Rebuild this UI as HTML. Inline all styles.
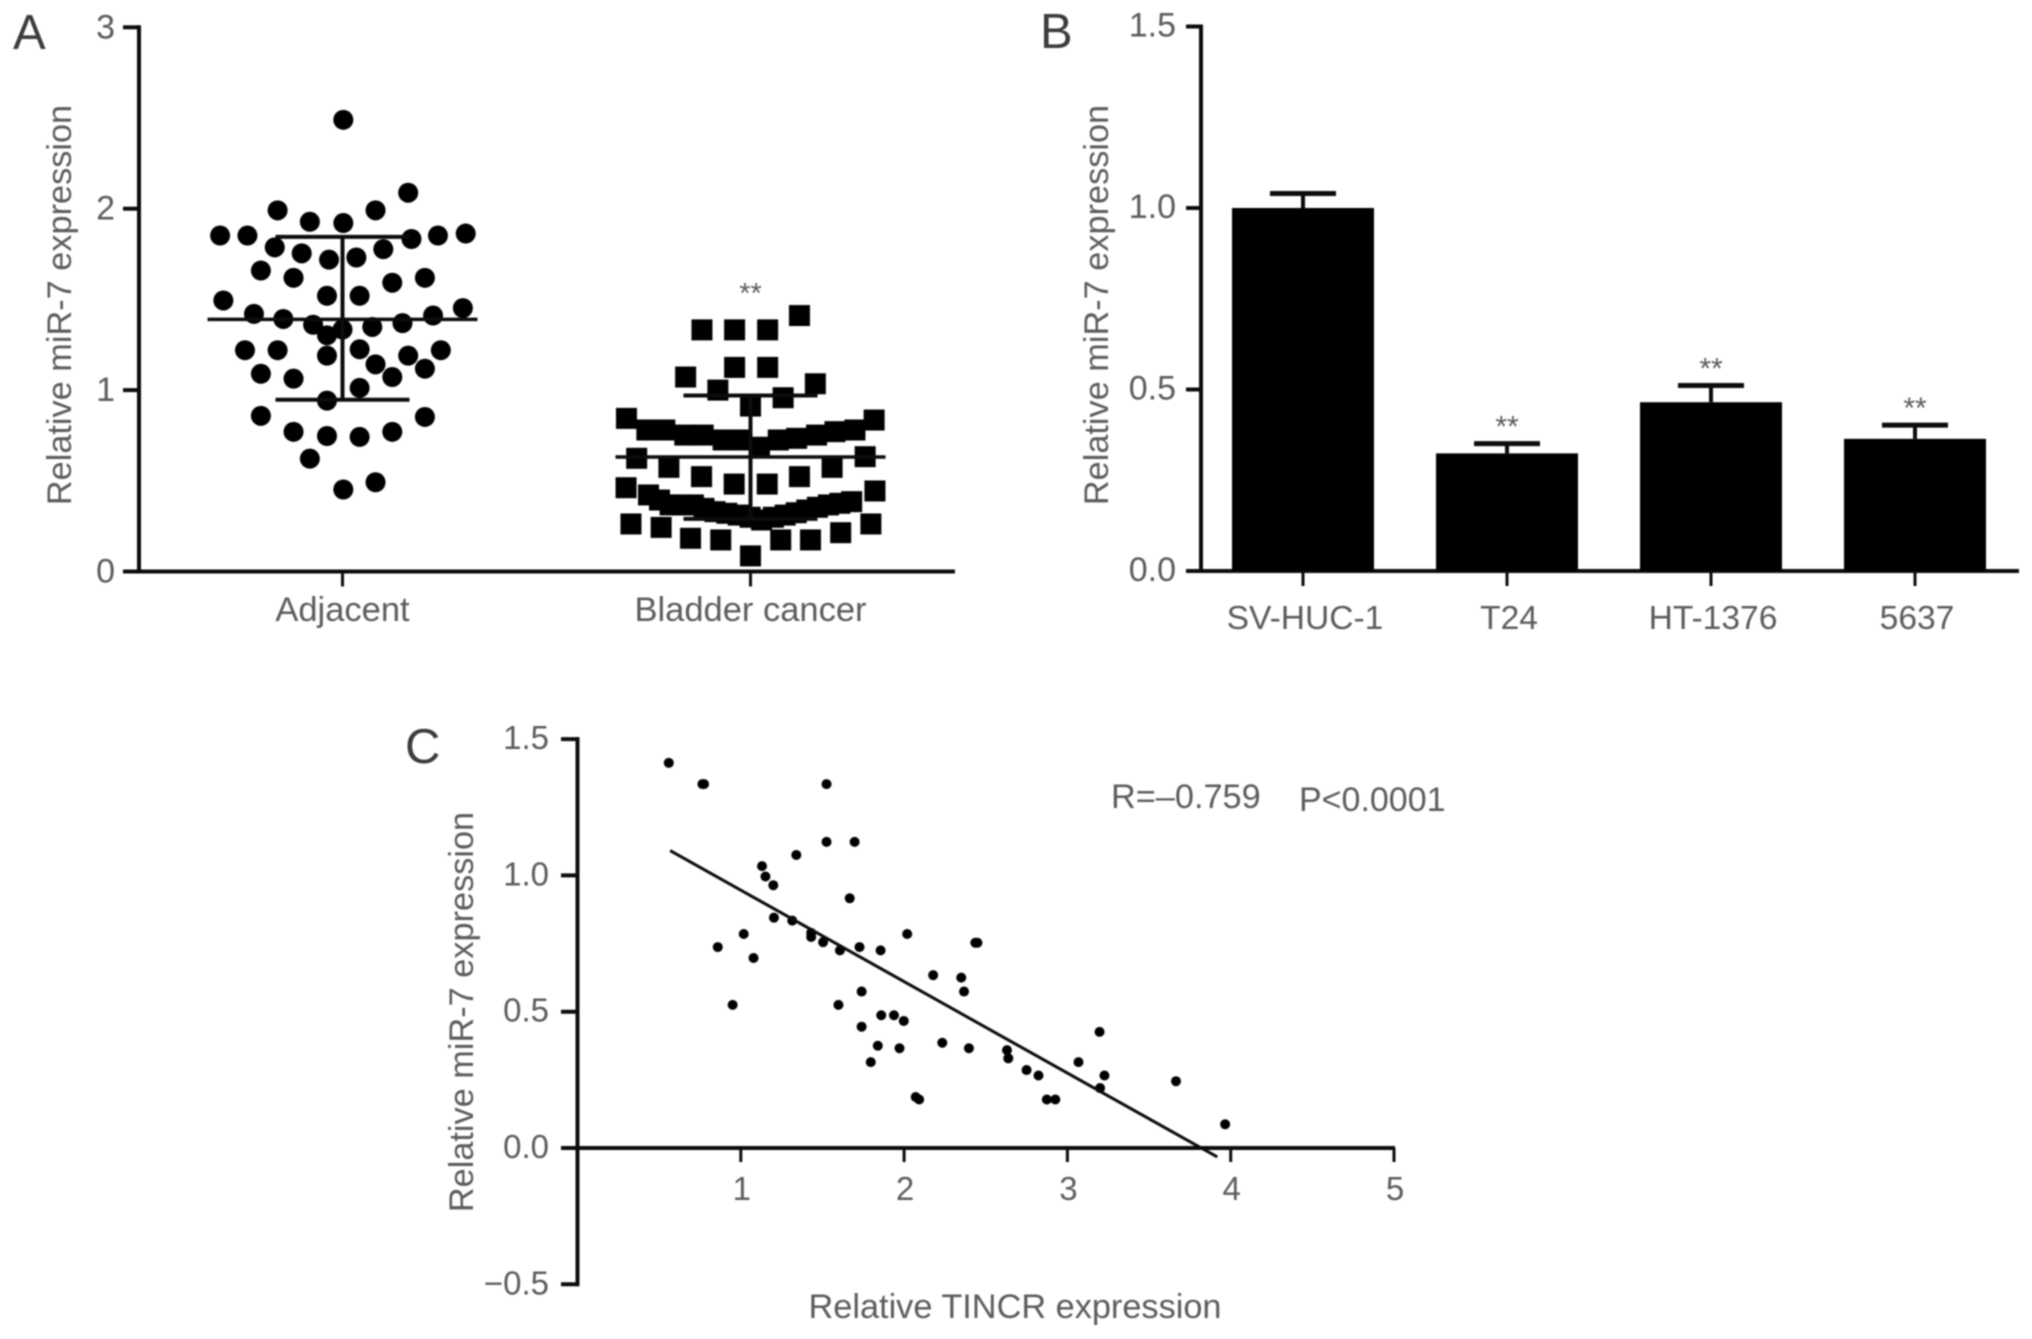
<!DOCTYPE html>
<html lang="en">
<head>
<meta charset="utf-8">
<title>miR-7 expression figure</title>
<style>
html,body{margin:0;padding:0;background:#fff;}
svg{display:block;filter:blur(0.7px);}
text{font-family:"Liberation Sans",sans-serif;fill:#5c5c5c;}
</style>
</head>
<body>
<svg id="figure" xmlns="http://www.w3.org/2000/svg" width="2032" height="1339" viewBox="0 0 2032 1339">
<rect x="0" y="0" width="2032" height="1339" fill="#fff"/>
<text x="13" y="49" font-size="49" style="fill:#3c3c3c">A</text>
<text x="1040" y="48" font-size="49" style="fill:#3c3c3c">B</text>
<text x="405" y="763" font-size="49" style="fill:#3c3c3c">C</text>
<text transform="translate(71,305) rotate(-90)" text-anchor="middle" font-size="34.3">Relative miR-7 expression</text>
<text transform="translate(1108,305) rotate(-90)" text-anchor="middle" font-size="34.3">Relative miR-7 expression</text>
<text transform="translate(473,1012) rotate(-90)" text-anchor="middle" font-size="34.3">Relative miR-7 expression</text>
<text x="1015" y="1318" text-anchor="middle" font-size="34.3">Relative TINCR expression</text>
<text x="1111" y="808" font-size="34.3">R=–0.759</text>
<text x="1299" y="811" font-size="34">P&lt;0.0001</text>
</svg>
<script>
// Panel A data
const aCategories = ['Adjacent', 'Bladder cancer'];
const aTicks = [0, 1, 2, 3];
const adjacentValues = [2.49,2.088,1.991,1.991,1.928,1.921,1.852,1.852,1.852,1.863,1.833,1.787,1.754,1.777,1.719,1.731,1.659,1.619,1.592,1.619,1.494,1.52,1.52,1.452,1.42,1.392,1.36,1.334,1.348,1.369,1.411,1.302,1.22,1.22,1.19,1.225,1.19,1.22,1.142,1.118,1.09,1.063,1.072,1.012,0.942,0.858,0.852,0.77,0.747,0.742,0.77,0.622,0.492,0.452];
const adjacentJitter = [0.002,0.161,-0.159,0.081,-0.08,0.002,-0.3,-0.233,0.234,0.302,0.169,-0.166,-0.1,0.1,-0.033,0.034,-0.2,-0.12,0.122,0.202,-0.292,-0.038,0.042,0.295,-0.217,-0.145,-0.072,0,0.073,0.147,0.222,-0.038,-0.239,-0.159,-0.038,0.042,0.161,0.241,0.081,0.202,-0.2,-0.12,0.122,0.042,-0.038,-0.2,0.202,-0.12,-0.038,0.042,0.122,-0.08,0.081,0.002];
const bladderValues = [1.411,1.332,1.332,1.332,1.125,1.125,1.072,1.035,1.0,0.958,0.912,0.844,0.78,0.78,0.752,0.752,0.725,0.725,0.685,0.725,0.734,0.752,0.771,0.78,0.835,0.624,0.574,0.523,0.482,0.482,0.523,0.574,0.633,0.462,0.422,0.367,0.367,0.33,0.311,0.284,0.311,0.339,0.367,0.385,0.444,0.262,0.243,0.183,0.174,0.174,0.174,0.214,0.262,0.086,0.394,0.367,0.348,0.321,0.299,0.299,0.324,0.354,0.376];
const bladderJitter = [0.12,-0.119,-0.039,0.042,-0.039,0.042,-0.159,0.159,-0.08,0.08,0,-0.304,-0.254,-0.21,-0.161,-0.116,-0.067,-0.026,0.022,0.068,0.113,0.162,0.207,0.256,0.303,-0.279,-0.2,-0.12,-0.04,0.041,0.12,0.2,0.281,-0.305,-0.25,-0.197,-0.14,-0.087,-0.03,0.027,0.085,0.138,0.191,0.248,0.305,-0.293,-0.219,-0.147,-0.073,0.074,0.147,0.221,0.295,0,-0.223,-0.169,-0.114,-0.058,-0.001,0.056,0.112,0.164,0.219];
const aMeans = [1.39, 0.631];
const aUpper = [1.845, 0.97];
const aLower = [0.947, 0.29];

// Panel B data
const bCategories = ['SV-HUC-1', 'T24', 'HT-1376', '5637'];
const bValues = [1.0, 0.324, 0.465, 0.364];
const bErrors = [0.04, 0.027, 0.046, 0.038];
const bSignificance = ['', '**', '**', '**'];
const bTicks = ['0.0', '0.5', '1.0', '1.5'];

// Panel C data
const cXValues = [0.559,0.765,0.775,1.525,1.525,1.697,1.34,1.13,1.151,1.199,1.667,1.203,1.315,1.018,2.019,1.431,1.431,1.504,2.436,2.449,0.859,1.607,1.727,1.856,1.078,2.178,2.35,2.367,1.74,0.95,1.598,1.86,1.938,1.998,1.74,2.234,1.839,1.972,2.397,2.63,2.638,1.796,3.068,3.197,2.75,2.823,3.227,3.2,2.071,2.092,2.874,2.926,3.665,3.966];
const cYValues = [1.413,1.335,1.335,1.335,1.123,1.123,1.075,1.034,0.996,0.964,0.916,0.845,0.834,0.785,0.785,0.789,0.774,0.755,0.753,0.753,0.737,0.725,0.737,0.725,0.697,0.634,0.625,0.574,0.574,0.525,0.525,0.487,0.487,0.466,0.445,0.386,0.375,0.366,0.366,0.359,0.329,0.315,0.315,0.426,0.286,0.266,0.266,0.22,0.187,0.178,0.178,0.178,0.245,0.087];
const cFitX = [0.567, 3.918];
const cFitY = [1.091, -0.033];
const cXTicks = [1, 2, 3, 4, 5];
const cYTicks = ['−0.5', '0.0', '0.5', '1.0', '1.5'];

const svg = document.getElementById('figure');
const NS = 'http://www.w3.org/2000/svg';

function make(tag, props, text) {
  const el = document.createElementNS(NS, tag);
  for (const k in props) el.setAttribute(k, props[k]);
  if (text !== undefined) el.textContent = text;
  svg.appendChild(el);
  return el;
}
function line(x1, y1, x2, y2, w, name) {
  const el = make('line', {x1: x1, y1: y1, x2: x2, y2: y2, stroke: '#0c0c0c', 'stroke-width': w});
  
  
  return el;
}
function label(x, y, str, anchor, size, name) {
  const el = make('text', {x: x, y: y, 'text-anchor': anchor, 'font-size': size}, str);
  
  
  return el;
}

// Axis functions
const aY = v => 571.5 - v * 181.4;
const aX = c => 342.5 + c * 408;
const bY = v => 571 - v * 363;
const bX = i => 1303 + i * 204;
const cX = v => 577.5 + v * 163.3;
const cY = v => 1148 - v * 272.6;

// Panel A axes
line(139, aY(3) - 2, 139, aY(0) + 2, 4, 'panel-a-y-axis');
line(123, aY(0), 955, aY(0), 4, 'panel-a-x-axis');
aTicks.forEach(t => {
  line(123, aY(t), 139, aY(t), 4, 'panel-a-y-tick');
  label(115, aY(t) + 11, String(t), 'end', 34, 'panel-a-y-tick-label');
});
aCategories.forEach((c, i) => {
  line(aX(i), aY(0), aX(i), aY(0) + 15, 3, 'panel-a-x-tick');
  label(aX(i), 621, c, 'middle', 34.5, 'panel-a-category-label');
});

// Panel A points
adjacentValues.forEach((v, i) => {
  const el = make('circle', {cx: aX(adjacentJitter[i]), cy: aY(v), r: 10, fill: '#000'});
  
  
});
bladderValues.forEach((v, i) => {
  const el = make('rect', {x: aX(1 + bladderJitter[i]) - 10.5, y: aY(v) - 10.5, width: 21, height: 21, fill: '#000'});
  
  
});

// Panel A mean and SD bars
aMeans.forEach((m, i) => {
  line(aX(i), aY(aUpper[i]), aX(i), aY(aLower[i]), 4, 'panel-a-sd-stem');
  line(aX(i) - 135, aY(m), aX(i) + 135, aY(m), 3.5, 'panel-a-mean-line');
  line(aX(i) - 67, aY(aUpper[i]), aX(i) + 67, aY(aUpper[i]), 4, 'panel-a-sd-cap-upper');
  line(aX(i) - 67, aY(aLower[i]), aX(i) + 67, aY(aLower[i]), 4, 'panel-a-sd-cap-lower');
});
label(aX(1), 303, '**', 'middle', 29, 'panel-a-significance');

// Panel B axes
line(1201, bY(1.5) - 2, 1201, bY(0) + 2, 4, 'panel-b-y-axis');
line(1186, bY(0), 2019, bY(0), 4, 'panel-b-x-axis');
bTicks.forEach(t => {
  line(1186, bY(Number(t)), 1201, bY(Number(t)), 4, 'panel-b-y-tick');
  label(1176, bY(Number(t)) + 10, t, 'end', 34, 'panel-b-y-tick-label');
});

// Panel B bars
bCategories.forEach((c, i) => {
  const bar = make('rect', {x: bX(i) - 71, y: bY(bValues[i]), width: 142, height: bY(0) - bY(bValues[i]), fill: '#000'});
  
  
  const top = bY(bValues[i] + bErrors[i]);
  line(bX(i), bY(bValues[i]), bX(i), top, 4, 'panel-b-error-stem');
  line(bX(i) - 33, top, bX(i) + 33, top, 5, 'panel-b-error-cap');
  line(bX(i), bY(0), bX(i), bY(0) + 15, 3, 'panel-b-x-tick');
  label(bX(i) + 2, 629, c, 'middle', 33.6, 'panel-b-category-label');
  if (bSignificance[i]) label(bX(i), top - 7, bSignificance[i], 'middle', 30, 'panel-b-significance');
});

// Panel C axes
line(577.5, cY(1.5) - 2, 577.5, cY(-0.5) + 2, 4, 'panel-c-y-axis');
line(561, cY(0), cX(5) + 1, cY(0), 4, 'panel-c-x-axis');
cYTicks.forEach((t, i) => {
  const v = -0.5 + i * 0.5;
  line(561, cY(v), 577.5, cY(v), 4, 'panel-c-y-tick');
  label(549, cY(v) + 10, t, 'end', 33, 'panel-c-y-tick-label');
});
cXTicks.forEach(t => {
  line(cX(t), cY(0), cX(t), cY(0) + 14, 3, 'panel-c-x-tick');
  label(cX(t) + 1, 1200, String(t), 'middle', 33, 'panel-c-x-tick-label');
});

// Panel C points and fit line
cXValues.forEach((x, i) => {
  const el = make('circle', {cx: cX(x), cy: cY(cYValues[i]), r: 5, fill: '#000'});
  
  
});
line(cX(cFitX[0]), cY(cFitY[0]), cX(cFitX[1]), cY(cFitY[1]), 3, 'regression-line');
</script>
</body>
</html>
